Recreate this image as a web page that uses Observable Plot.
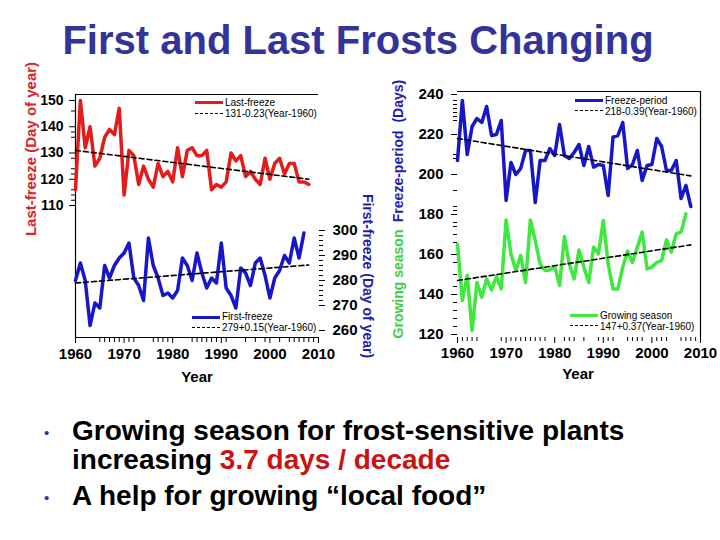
<!DOCTYPE html>
<html><head><meta charset="utf-8">
<script src="https://cdn.jsdelivr.net/npm/d3@7"></script>
<script src="https://cdn.jsdelivr.net/npm/@observablehq/plot@0.6"></script>
<style>
body{margin:0;background:#fff;}
#wrap{position:relative;width:720px;height:540px;overflow:hidden;font-family:Arial,"Liberation Sans",sans-serif;background:#fff;}
#wrap svg{position:absolute;left:0;top:0;}
.t{position:absolute;white-space:pre;line-height:1;}
.rot{position:absolute;white-space:pre;line-height:1;font-weight:bold;}
.leg{position:absolute;font-size:10px;line-height:10px;white-space:pre;color:#000;}
.sw{position:absolute;width:28px;height:3px;}
.dash{position:absolute;width:28px;height:0;border-top:1.5px dashed #000;}
</style></head>
<body>
<div id="wrap"></div>
<script>
// ---------------- data ----------------
const lastYears = d3.range(1960, 2009);
const lastFreeze = [116,150,132,140,125,128,136,139,137,147,114,131,129,118,125,120,117,126,121,123,119,132,121,131,132,129,129,131,116,118,117,119,130,127,129,121,123,120,118,128,120,126,128,122,126,126,119,119,118];
const firstYears = d3.range(1960, 2008);
const firstFreeze = [280,287,280,262,271,269,286,281,286,289,291,295,281,278,272,297,286,281,274,275,273,276,289,286,280,291,283,277,281,279,295,277,274,269,285,283,278,287,289,282,273,281,284,290,287,297,289,299];
const periodYears = d3.range(1960, 2009);
const freezePeriod = [207,237,210,224,228,226,234,219.5,220,227,187,206,200,203,212,212,186,207,207,213,209.5,225,209.5,208,211,215,204.5,214,203.7,205,204.5,189.5,218.7,219.5,226,203,205,212,197,204.5,205,218,214,202,202,207,188,194.5,184];
const growYears = d3.range(1960, 2008);
const growingSeason = [165,137,149.5,122,146,138.7,147.8,142.3,149,142.8,177.3,160.3,152,159.5,146,177.3,167,155.3,152,152.3,154,144.5,169,155.3,147.8,162.3,153.7,146,163.7,160.3,177,155.3,142.8,142.8,153.7,161.7,156,163.7,171.2,152.8,153.7,156,157,167.3,161.2,170.3,171.2,180.3];

const trendYears = [1960, 2008];
const lastTrend = [131, 120];
const firstTrend = [279, 286.2];
const periodTrend = [218, 199.3];
const growTrend = [147, 164.8];

const decadeTicks = [1960,1970,1980,1990,2000,2010];
const leftMinorYears = [1965,1966,1967,1968,1969,1971,1972,1976,1977,1978,1979,1984,1985,1986,1987,1988,1989,1991,1995,1997,1999,2002,2004,2005,2006,2007,2008,2009];
const rightMinorYears = [1961,1962,1963,1964,1969,1971,1972,1973,1974,1975,1976,1977,1978,1982,1983,1984,1986,1989,1991,1992,1995,1996,1997,1998,2001,2002,2003,2006,2007,2008,2009];
const lastTicks = [110,120,130,140,150];
const lastMinorTicks = [146,138,136,128,124,122,116,114,112];
const firstTicks = [260,270,280,290,300];
const firstMinorTicks = [272,274,276,278,282,284,286,288,292,294,296,298];
const rightTicks = [120,140,160,180,200,220,240];
const rightMinorTicks = [237,235,233,231,229,227,210,208,192,184,182,176,174,170,166,156,150,144,136,132,128,124];

// axis extents of the frames (layout)
const lastDomain = [59.71, 152.29];
const firstDomain = [257.2, 354.4];
const rightDomain = [118.5, 241.5];

const RED = "#e41b1b", BLUE = "#1717c8", GREEN = "#3ee83e";
const series = (xs, ys) => xs.map((x, i) => ({year: x, value: ys[i]}));
const fmt = d => String(d);
const style = {background:"transparent", fontFamily:"Arial, 'Liberation Sans', sans-serif", fontWeight:"bold", fontSize:"14px", color:"#000", overflow:"visible"};
const wrap = document.getElementById("wrap");
const LW = 3.5;

// ---------- left panel: last freeze ----------
const p1 = Plot.plot({
  width:720, height:540, marginLeft:75, marginRight:402, marginTop:94, marginBottom:203,
  x:{domain:[1960,2010]}, y:{domain:lastDomain},
  style,
  marks:[
    Plot.axisY({ticks:lastTicks, tickSize:6, tickPadding:6, tickFormat:fmt, label:null, fontSize:14}),
    Plot.axisY({ticks:lastMinorTicks, tickSize:4, tickFormat:()=>"", label:null}),
    Plot.axisX({ticks:decadeTicks, tickSize:6, tickPadding:5, tickFormat:fmt, label:null, fontSize:15}),
    Plot.axisX({ticks:leftMinorYears, tickSize:5, tickFormat:()=>"", label:null}),
    Plot.ruleY([lastDomain[1], lastDomain[0]], {stroke:"#000", strokeWidth:1.2}),
    Plot.ruleX([1960], {stroke:"#000", strokeWidth:1.2}),
    Plot.line(series(lastYears, lastFreeze), {x:"year", y:"value", stroke:RED, strokeWidth:LW}),
    Plot.line(series(trendYears, lastTrend), {x:"year", y:"value", stroke:"#000", strokeWidth:1.6, strokeDasharray:"5,3"})
  ]
});
wrap.appendChild(p1);

// ---------- left panel: first freeze ----------
const p2 = Plot.plot({
  width:720, height:540, marginLeft:75, marginRight:402, marginTop:94, marginBottom:203,
  x:{domain:[1960,2010], axis:null}, y:{domain:firstDomain},
  style,
  marks:[
    Plot.axisY({anchor:"right", ticks:firstTicks, tickSize:6, tickPadding:8, tickFormat:fmt, label:null, fontSize:15}),
    Plot.axisY({anchor:"right", ticks:firstMinorTicks, tickSize:4, tickFormat:()=>"", label:null}),
    Plot.line(series(firstYears, firstFreeze), {x:"year", y:"value", stroke:BLUE, strokeWidth:LW}),
    Plot.line(series(trendYears, firstTrend), {x:"year", y:"value", stroke:"#000", strokeWidth:1.6, strokeDasharray:"5,3"})
  ]
});
wrap.appendChild(p2);

// ---------- right panel ----------
const p3 = Plot.plot({
  width:720, height:540, marginLeft:457, marginRight:20, marginTop:91, marginBottom:203,
  x:{domain:[1960,2010]}, y:{domain:rightDomain},
  style,
  marks:[
    Plot.axisY({ticks:rightTicks, tickSize:6, tickPadding:8, tickFormat:fmt, label:null, fontSize:15}),
    Plot.axisY({ticks:rightMinorTicks, tickSize:4, tickFormat:()=>"", label:null}),
    Plot.axisX({ticks:decadeTicks, tickSize:6, tickPadding:4, tickFormat:fmt, label:null, fontSize:15}),
    Plot.axisX({ticks:rightMinorYears, tickSize:4, tickFormat:()=>"", label:null}),
    Plot.ruleY([rightDomain[1]], {stroke:"#000", strokeWidth:1.2}),
    Plot.ruleX([2010], {stroke:"#000", strokeWidth:1.2}),
    Plot.line(series(periodYears, freezePeriod), {x:"year", y:"value", stroke:BLUE, strokeWidth:LW}),
    Plot.line(series(growYears, growingSeason), {x:"year", y:"value", stroke:GREEN, strokeWidth:LW}),
    Plot.line(series(trendYears, periodTrend), {x:"year", y:"value", stroke:"#000", strokeWidth:1.6, strokeDasharray:"5,3"}),
    Plot.line(series(trendYears, growTrend), {x:"year", y:"value", stroke:"#000", strokeWidth:1.6, strokeDasharray:"5,3"})
  ]
});
wrap.appendChild(p3);

// ---------- text & legends ----------
function add(html, cls, css){ const d=document.createElement("div"); d.className=cls; d.innerHTML=html; Object.assign(d.style, css); wrap.appendChild(d); return d; }

add("First and Last Frosts Changing", "t", {left:"0px", width:"716px", textAlign:"center", top:"20px", fontSize:"40px", fontWeight:"bold", color:"#333399"});

add("Last-freeze (Day of year)", "rot", {left:"30px", top:"149px", fontSize:"15px", color:"#e0202a", transform:"translate(-50%,-50%) rotate(-90deg)"});
add("First-freeze (Day of year)", "rot", {left:"368px", top:"276px", fontSize:"14px", color:"#1c1cb0", transform:"translate(-50%,-50%) rotate(90deg)"});
add("Freeze-period  (Days)", "rot", {left:"398px", top:"151px", fontSize:"14px", color:"#1c1cb0", transform:"translate(-50%,-50%) rotate(-90deg)"});
add("Growing season", "rot", {left:"398px", top:"284px", fontSize:"14px", color:"#44cc44", transform:"translate(-50%,-50%) rotate(-90deg)"});
add("Year", "rot", {left:"197px", top:"376px", fontSize:"15px", color:"#000", transform:"translate(-50%,-50%)"});
add("Year", "rot", {left:"578px", top:"373px", fontSize:"15px", color:"#000", transform:"translate(-50%,-50%)"});

// legends
add("", "sw", {left:"195px", top:"101px", background:RED});
add("Last-freeze", "leg", {left:"225px", top:"98px"});
add("", "dash", {left:"195px", top:"113px"});
add("131-0.23(Year-1960)", "leg", {left:"225px", top:"109px"});

add("", "sw", {left:"192px", top:"316px", background:BLUE});
add("First-freeze", "leg", {left:"222px", top:"312px"});
add("", "dash", {left:"192px", top:"327px"});
add("279+0.15(Year-1960)", "leg", {left:"222px", top:"323px"});

add("", "sw", {left:"575px", top:"99px", background:BLUE});
add("Freeze-period", "leg", {left:"605px", top:"96px"});
add("", "dash", {left:"575px", top:"110px"});
add("218-0.39(Year-1960)", "leg", {left:"605px", top:"107px"});

add("", "sw", {left:"570px", top:"314px", background:GREEN});
add("Growing season", "leg", {left:"600px", top:"311px"});
add("", "dash", {left:"570px", top:"325px"});
add("147+0.37(Year-1960)", "leg", {left:"600px", top:"322px"});

// bullets
const bcss = {fontSize:"28px", fontWeight:"bold", color:"#000"};
add("•", "t", {left:"44px", top:"425px", fontSize:"15px", color:"#333399"});
add("Growing season for frost-sensitive plants", "t", Object.assign({left:"72px", top:"417px"}, bcss));
add('increasing <span style="color:#cc1111">3.7 days / decade</span>', "t", Object.assign({left:"72px", top:"446px"}, bcss));
add("•", "t", {left:"44px", top:"490px", fontSize:"15px", color:"#333399"});
add("A help for growing \u201clocal food\u201d", "t", Object.assign({left:"72px", top:"482px"}, bcss));
</script>
</body></html>
